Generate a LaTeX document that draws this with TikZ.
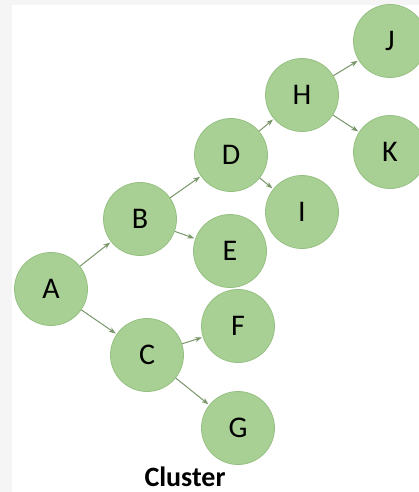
\documentclass[tikz,border=0pt]{standalone}
\usepackage{fontspec}
\setmainfont{Carlito}
\usetikzlibrary{arrows.meta}

\definecolor{leaf}{RGB}{168,208,148}
\definecolor{rim}{RGB}{150,192,130}
\definecolor{link}{RGB}{120,150,105}

\begin{document}
\begin{tikzpicture}[x=1pt, y=-1pt,
    item/.style={circle, fill=leaf, draw=rim, line width=0.8pt, minimum size=73pt, inner sep=0pt, font=\fontsize{30}{32}\selectfont},
    link/.style={draw=link, line width=1pt, -{Stealth[length=7pt, width=5pt]}, shorten >=1pt}]
            % background with grey strip
            \fill[gray!8] (0,0) rectangle (419,492);
            \fill[white] (12,5) rectangle (419,492);
            \useasboundingbox (0,0) rectangle (419,492);
            
            % Nodes
            \node[item] (A) at (51,289) {A};
            \node[item] (B) at (140,219) {B};
            \node[item] (C) at (147,355) {C};
            \node[item] (D) at (231,155) {D};
            \node[item] (E) at (230,251) {E};
            \node[item] (F) at (238,326) {F};
            \node[item] (G) at (238,428) {G};
            \node[item] (H) at (302,95) {H};
            \node[item] (I) at (302,212) {I};
            \node[item] (J) at (390,41) {J};
            \node[item] (K) at (390,152) {K};
            
            % Links
            \foreach \from/\to in {A/B, A/C, B/D, B/E, C/F, C/G, D/H, D/I, H/J, H/K}
                \draw[link] (\from) -- (\to);
            
            % Caption
            \node[anchor=base, inner sep=0pt, font=\fontsize{28}{30}\selectfont\bfseries] (cap) at (185,486) {Cluster};
        \end{tikzpicture}
\end{document}
